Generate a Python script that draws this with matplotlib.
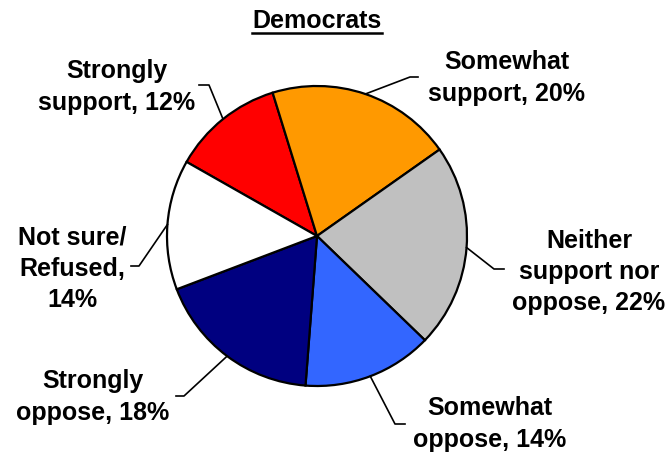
import numpy as np
import matplotlib
matplotlib.use("Agg")
import matplotlib.pyplot as plt

plt.rcParams["font.family"] = ["Liberation Sans", "DejaVu Sans"]

title = "Democrats"
labels = ["Strongly\nsupport, 12%", "Somewhat\nsupport, 20%",
          "Neither\nsupport nor\noppose, 22%", "Somewhat\noppose, 14%",
          "Strongly\noppose, 18%", "Not sure/\nRefused,\n14%"]
values = [12, 20, 22, 14, 18, 14]
colors = ["#FF0000", "#FF9900", "#C0C0C0", "#3366FF", "#000080", "#FFFFFF"]

# label layout in pixels (text centre, elbow, end of short tick)
W, H = 669, 456
cx, cy, R = 317, 237, 150
text_px = [(117, 87), (507, 78), (589, 272), (490, 424), (93, 397), (72, 269)]
elbow_px = [(209, 86), (410, 78), (494, 270), (395, 425), (184, 397), (139, 267)]
tick_px = [(199, 86), (418, 78), (504, 270), (405, 425), (176, 397), (131, 267)]


def to_data(p):
    return (p[0] - cx) / R, (cy - p[1]) / R


fig = plt.figure(figsize=(W / 100, H / 100), dpi=100)
ax = fig.add_axes([(cx - R) / W, (H - cy - R) / H, 2 * R / W, 2 * R / H])
wedges, _ = ax.pie(values, colors=colors, startangle=150.4, counterclock=False,
                   wedgeprops=dict(edgecolor="black", linewidth=1.6))
ax.set_xlim(-1, 1)
ax.set_ylim(-1, 1)
ax.set_aspect("equal")
ax.axis("off")

for w, lab, tp, ep, kp in zip(wedges, labels, text_px, elbow_px, tick_px):
    mid = np.deg2rad((w.theta1 + w.theta2) / 2)
    x0, y0 = np.cos(mid), np.sin(mid)
    ex, ey = to_data(ep)
    kx, ky = to_data(kp)
    ax.plot([x0, ex, kx], [y0, ey, ky], color="black", lw=1.2, clip_on=False)
    tx, ty = to_data(tp)
    ax.text(tx, ty, lab, ha="center", va="center", fontsize=18, fontweight="bold",
            linespacing=1.38, multialignment="center")

t = fig.text(cx / W, 1 - 21 / H, title, ha="center", va="center",
             fontsize=18, fontweight="bold")
fig.canvas.draw()
bb = t.get_window_extent()
fig.add_artist(plt.Line2D([bb.x0 / W, bb.x1 / W], [(bb.y0 - 1) / H] * 2,
                          color="black", lw=1.8, transform=fig.transFigure))

fig.savefig("out.png", dpi=100)
